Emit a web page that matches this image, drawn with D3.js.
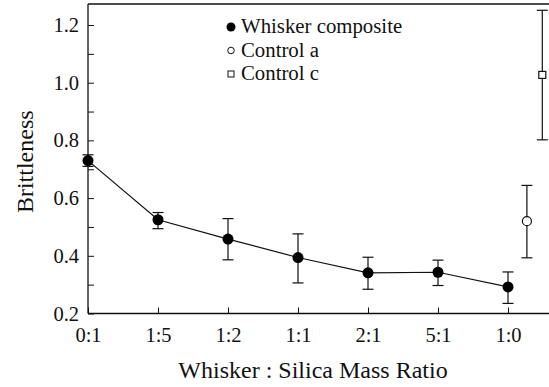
<!DOCTYPE html>
<html><head><meta charset="utf-8">
<script src="https://cdn.jsdelivr.net/npm/d3@7"></script>
<style>body{margin:0;background:#fff}svg{display:block}</style>
</head><body>
<script>
const categories = ["0:1","1:5","1:2","1:1","2:1","5:1","1:0"];
const compositeValues = [0.73, 0.525, 0.458, 0.394, 0.341, 0.343, 0.292];
const compositeLow  = [0.71, 0.494, 0.386, 0.306, 0.284, 0.297, 0.235];
const compositeHigh = [0.75, 0.55, 0.529, 0.476, 0.395, 0.385, 0.344];
const controlA = {pos: 6.27, value: 0.52, low: 0.393, high: 0.644};
const controlC = {pos: 6.49, value: 1.027, low: 0.802, high: 1.251};
const yTicks = [0.2, 0.4, 0.6, 0.8, 1.0, 1.2];
const yMinorTicks = [0.3, 0.5, 0.7, 0.9, 1.1];
const legendLabels = ["Whisker composite", "Control a", "Control c"];

(function () {
const FONT = "Liberation Serif";
const W = 549, H = 387;
const svg = d3.select("body").append("svg").attr("width", W).attr("height", H).attr("font-family", FONT);
const mLeft = 88, mTop = 4, mBottom = 313.5, mRight = 549;
const x = d3.scaleLinear().domain([0, 6]).range([mLeft, 508]);
const y = d3.scaleLinear().domain([0.2, 1.2]).range([mBottom, 25]);

svg.append("line").attr("x1", mLeft).attr("x2", mRight).attr("y1", mTop).attr("y2", mTop).attr("stroke", "#111").attr("stroke-width", 1.3);

const yAxis = svg.append("g").attr("transform", `translate(${mLeft},0)`)
  .call(d3.axisLeft(y).tickValues(yTicks).tickFormat(d3.format(".1f")).tickSizeInner(-6).tickSizeOuter(0).tickPadding(9));
yAxis.select(".domain").remove();
svg.append("g").attr("transform", `translate(${mLeft},0)`)
  .call(d3.axisLeft(y).tickValues(yMinorTicks).tickFormat("").tickSizeInner(-6).tickSizeOuter(0))
  .select(".domain").remove();
svg.append("line").attr("x1", mLeft).attr("x2", mLeft).attr("y1", mTop).attr("y2", mBottom).attr("stroke", "#111").attr("stroke-width", 1.3);

const xAxis = svg.append("g").attr("transform", `translate(0,${mBottom})`)
  .call(d3.axisBottom(x).tickValues(d3.range(categories.length)).tickFormat(i => categories[i]).tickSizeInner(-6).tickSizeOuter(0).tickPadding(14));
xAxis.select(".domain").remove();
svg.append("line").attr("x1", mLeft).attr("x2", mRight).attr("y1", mBottom).attr("y2", mBottom).attr("stroke", "#111").attr("stroke-width", 1.3);
svg.selectAll(".tick line").attr("stroke", "#111");
svg.selectAll("g").attr("font-family", FONT);
svg.selectAll(".tick text").attr("font-size", 20.5).attr("font-family", FONT).attr("fill", "#111");

svg.append("text").attr("transform", `translate(33,${(mTop + mBottom) / 2 + 3}) rotate(-90)`).attr("text-anchor", "middle")
  .attr("font-family", FONT).attr("font-size", 24).attr("fill", "#111").text("Brittleness");
svg.append("text").attr("x", 313).attr("y", 378).attr("text-anchor", "middle")
  .attr("font-family", FONT).attr("font-size", 24).attr("fill", "#111").text("Whisker : Silica Mass Ratio");

function errBar(px, lo, hi) {
  const g = svg.append("g").attr("stroke", "#111").attr("stroke-width", 1.2);
  g.append("line").attr("x1", px).attr("x2", px).attr("y1", y(lo)).attr("y2", y(hi));
  g.append("line").attr("x1", px - 5.5).attr("x2", px + 5.5).attr("y1", y(lo)).attr("y2", y(lo));
  g.append("line").attr("x1", px - 5.5).attr("x2", px + 5.5).attr("y1", y(hi)).attr("y2", y(hi));
}
compositeValues.forEach((v, i) => errBar(x(i), compositeLow[i], compositeHigh[i]));
errBar(x(controlA.pos), controlA.low, controlA.high);
errBar(x(controlC.pos), controlC.low, controlC.high);

svg.append("path").datum(compositeValues)
  .attr("d", d3.line().x((d, i) => x(i)).y(d => y(d)))
  .attr("fill", "none").attr("stroke", "#111").attr("stroke-width", 1.2);

svg.selectAll("circle.comp").data(compositeValues).join("circle").attr("class", "comp")
  .attr("cx", (d, i) => x(i)).attr("cy", d => y(d)).attr("r", 5.5).attr("fill", "#000");

svg.append("circle").attr("cx", x(controlA.pos)).attr("cy", y(controlA.value)).attr("r", 4.5)
  .attr("fill", "#fff").attr("stroke", "#111").attr("stroke-width", 1.2);
svg.append("rect").attr("x", x(controlC.pos) - 3.5).attr("y", y(controlC.value) - 3.5).attr("width", 7).attr("height", 7)
  .attr("fill", "#fff").attr("stroke", "#111").attr("stroke-width", 1.2);

const lg = svg.append("g");
const ly = [27, 50.5, 74];
lg.append("circle").attr("cx", 231).attr("cy", ly[0]).attr("r", 4.5).attr("fill", "#000");
lg.append("circle").attr("cx", 231).attr("cy", ly[1]).attr("r", 3.3).attr("fill", "#fff").attr("stroke", "#111").attr("stroke-width", 1);
lg.append("rect").attr("x", 228).attr("y", ly[2] - 3).attr("width", 6).attr("height", 6).attr("fill", "#fff").attr("stroke", "#111").attr("stroke-width", 1);
legendLabels.forEach((t, i) => lg.append("text").attr("x", 241).attr("y", ly[i] + 6)
  .attr("font-family", FONT).attr("font-size", 20.8).attr("fill", "#111").text(t));
})();
</script>
</body></html>
